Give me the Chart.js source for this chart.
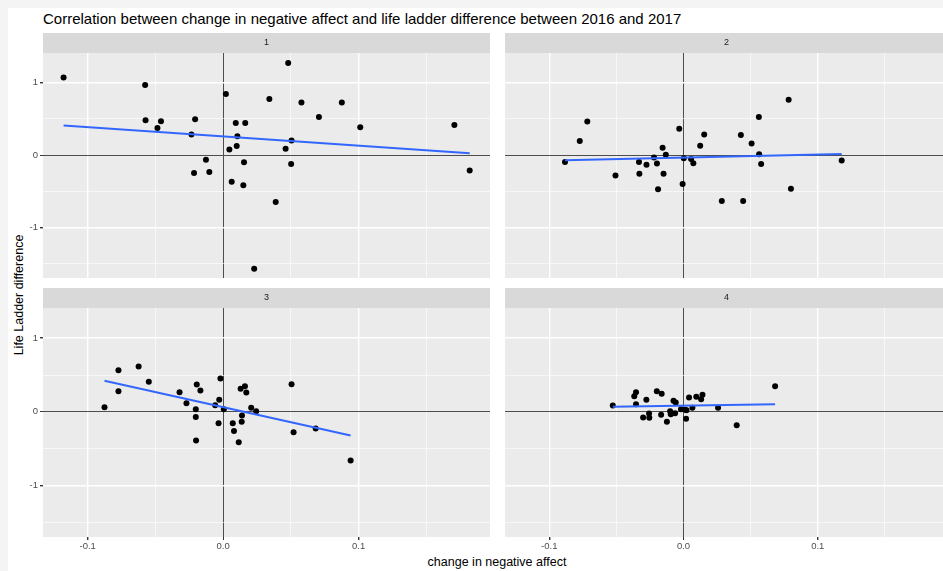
<!DOCTYPE html>
<html>
<head>
<meta charset="utf-8">
<script src="https://cdn.jsdelivr.net/npm/chart.js@4/dist/chart.umd.min.js"></script>
<style>
  body { margin: 0; width: 943px; height: 571px; overflow: hidden; background: #f4f4f4; position: relative;
         font-family: "Liberation Sans", Arial, Helvetica, sans-serif; }
  #sheet { position: absolute; left: 8px; top: 8px; width: 935px; height: 563px; background: #fff; }
  canvas { position: absolute; }
  .txt { position: absolute; white-space: nowrap; color: #000; }
</style>
</head>
<body>
<div id="sheet"></div>
<div class="txt" style="left:43px; top:11px; font-size:15px; line-height:15px;">Correlation between change in negative affect and life ladder difference between 2016 and 2017</div>
<div class="txt" style="left:497px; top:556px; font-size:12.5px; line-height:12px; transform:translateX(-50%);">change in negative affect</div>
<div class="txt" style="left:19px; top:295px; font-size:12.5px; line-height:12px; transform:translate(-50%,-50%) rotate(-90deg);">Life Ladder difference</div>

<canvas id="p1" width="486" height="249" style="left:8px; top:33px;"></canvas>
<canvas id="p2" width="451" height="249" style="left:501px; top:33px;"></canvas>
<canvas id="p3" width="486" height="266" style="left:8px; top:288px;"></canvas>
<canvas id="p4" width="451" height="266" style="left:501px; top:288px;"></canvas>

<script>
  // panel 1
  const x1 = [-0.1178, -0.0576, -0.0573, -0.0485, -0.0459, -0.0207, -0.0234, -0.0215, -0.0127, -0.0102,
              0.0020, 0.0046, 0.0063, 0.0093, 0.0105, 0.0100, 0.0163, 0.0154, 0.0149, 0.0229,
              0.0341, 0.0388, 0.0461, 0.0480, 0.0505, 0.0502, 0.0578, 0.0707, 0.0876, 0.1012,
              0.1707, 0.1820];
  const y1 = [1.073, 0.968, 0.482, 0.373, 0.468, 0.495, 0.282, -0.250, -0.064, -0.236,
              0.845, 0.077, -0.368, 0.441, 0.259, 0.123, 0.441, -0.100, -0.418, -1.573,
              0.773, -0.650, 0.086, 1.273, 0.200, -0.123, 0.727, 0.527, 0.727, 0.382,
              0.414, -0.214];
  const fitX1 = [-0.1178, 0.1820];
  const fitY1 = [0.409, 0.023];

  // panel 2
  const x2 = [-0.0883, -0.0773, -0.0717, -0.0507, -0.0332, -0.0329, -0.0276, -0.0220, -0.0198, -0.0190,
              -0.0156, -0.0149, -0.0132, -0.0032, -0.0007, 0.0002, 0.0056, 0.0073, 0.0124, 0.0154,
              0.0285, 0.0427, 0.0444, 0.0507, 0.0561, 0.0563, 0.0578, 0.0783, 0.0800, 0.1178];
  const y2 = [-0.095, 0.195, 0.464, -0.282, -0.095, -0.259, -0.136, -0.036, -0.118, -0.473,
              0.100, -0.259, 0.005, 0.364, -0.400, -0.045, -0.055, -0.114, 0.127, 0.282,
              -0.636, 0.277, -0.636, 0.159, 0.527, 0.009, -0.123, 0.764, -0.468, -0.077];
  const fitX2 = [-0.0883, 0.1178];
  const fitY2 = [-0.073, 0.014];

  // panel 3
  const x3 = [-0.0876, -0.0773, -0.0773, -0.0624, -0.0549, -0.0322, -0.0271, -0.0202, -0.0202, -0.0195,
              -0.0200, -0.0168, -0.0059, -0.0029, -0.0020, -0.0034, 0.0005, 0.0071, 0.0080, 0.0115,
              0.0129, 0.0161, 0.0171, 0.0139, 0.0137, 0.0207, 0.0244, 0.0505, 0.0520, 0.0683,
              0.0941];
  const y3 = [0.063, 0.566, 0.281, 0.615, 0.407, 0.267, 0.118, 0.036, -0.072, 0.371,
              -0.389, 0.290, 0.090, 0.163, 0.452, -0.154, 0.036, -0.154, -0.262, -0.412,
              0.312, 0.348, 0.262, -0.050, -0.136, 0.054, 0.009, 0.376, -0.276, -0.226,
              -0.661];
  const fitX3 = [-0.0876, 0.0941];
  const fitY3 = [0.421, -0.321];

  // panel 4
  const x4 = [-0.0527, -0.0367, -0.0354, -0.0354, -0.0301, -0.0277, -0.0257, -0.0255, -0.0199, -0.0163,
              -0.0167, -0.0124, -0.0100, -0.0095, -0.0075, -0.0058, -0.0063, -0.0019, 0.0012, 0.0022,
              0.0019, 0.0041, 0.0066, 0.0095, 0.0131, 0.0141, 0.0257, 0.0396, 0.0682];
  const y4 = [0.086, 0.213, 0.267, 0.104, -0.077, 0.163, -0.023, -0.081, 0.281, 0.244,
              -0.041, -0.136, 0.009, -0.032, 0.149, 0.127, -0.018, 0.036, 0.027, 0.023,
              -0.095, 0.195, 0.054, 0.204, 0.172, 0.231, 0.054, -0.181, 0.348];
  const fitX4 = [-0.0527, 0.0682];
  const fitY4 = [0.068, 0.104];

  // axes
  const xTicks = [-0.1, -0.05, 0, 0.05, 0.1, 0.15];
  const yTicks = [-1.5, -1, -0.5, 0, 0.5, 1];
  const xRange = [-0.133, 0.197];
  const yRange = [-1.70, 1.41];

  const STRIP = 20;
  const TICK_FONT = { size: 9.5, family: '"Liberation Sans", Arial, sans-serif' };

  const isMajorX = v => Math.abs(v * 10 - Math.round(v * 10)) < 1e-9;
  const isMajorY = v => Math.abs(v - Math.round(v)) < 1e-9;

  function gridColor(v) { return Math.abs(v) < 1e-9 ? '#4d4d4d' : '#ffffff'; }

  // grey panel + facet strip
  const facetDeco = {
    id: 'facetDeco',
    beforeDraw(chart, args, opts) {
      const { ctx, chartArea: a } = chart;
      ctx.save();
      ctx.fillStyle = '#ebebeb';
      ctx.fillRect(a.left, a.top, a.right - a.left, a.bottom - a.top);
      ctx.fillStyle = '#d9d9d9';
      ctx.fillRect(a.left, a.top - STRIP, a.right - a.left, STRIP);
      ctx.fillStyle = '#1a1a1a';
      ctx.font = '9px "Liberation Sans", Arial, sans-serif';
      ctx.textAlign = 'center';
      ctx.textBaseline = 'middle';
      ctx.fillText(opts.label, (a.left + a.right) / 2, a.top - STRIP / 2);
      ctx.restore();
    }
  };

  // stop tick labels from pushing the panel edges in
  function noPad(s) {
    s.paddingTop = 0; s.paddingBottom = 0; s.paddingLeft = 0; s.paddingRight = 0;
  }

  function makePanel(id, label, xs, ys, fx, fy, showX, showY) {
    const points = xs.map((x, i) => ({ x: x, y: ys[i] }));
    const fit = fx.map((x, i) => ({ x: x, y: fy[i] }));
    new Chart(document.getElementById(id), {
      type: 'scatter',
      data: {
        datasets: [
          { type: 'line', data: fit, borderColor: '#3366ff', borderWidth: 2, pointRadius: 0, fill: false },
          { data: points, backgroundColor: '#000', borderWidth: 0, pointRadius: 3 }
        ]
      },
      options: {
        responsive: false,
        animation: false,
        devicePixelRatio: 1,
        layout: { padding: { top: STRIP, left: 0, right: 0, bottom: 0 } },
        plugins: { legend: { display: false }, tooltip: { enabled: false }, facetDeco: { label: label } },
        scales: {
          x: {
            type: 'linear', min: xRange[0], max: xRange[1],
            afterBuildTicks: s => { s.ticks = xTicks.map(v => ({ value: v })); },
            afterFit: s => { s.height = showX ? 17 : 0; noPad(s); },
            border: { display: false },
            grid: {
              color: c => gridColor(c.tick.value),
              lineWidth: c => Math.abs(c.tick.value) < 1e-9 ? 1 : (isMajorX(c.tick.value) ? 1.4 : 0.6),
              drawTicks: showX, tickLength: 3,
              tickColor: c => isMajorX(c.tick.value) ? '#333' : 'rgba(0,0,0,0)'
            },
            ticks: {
              display: showX, autoSkip: false, maxRotation: 0, padding: 1,
              color: '#4d4d4d', font: TICK_FONT,
              callback: v => isMajorX(v) ? v.toFixed(1) : ''
            }
          },
          y: {
            type: 'linear', min: yRange[0], max: yRange[1],
            afterBuildTicks: s => { s.ticks = yTicks.map(v => ({ value: v })); },
            afterFit: s => { s.width = showY ? 35 : 0; noPad(s); },
            border: { display: false },
            grid: {
              color: c => gridColor(c.tick.value),
              lineWidth: c => Math.abs(c.tick.value) < 1e-9 ? 1 : (isMajorY(c.tick.value) ? 1.4 : 0.6),
              drawTicks: showY, tickLength: 3,
              tickColor: c => isMajorY(c.tick.value) ? '#333' : 'rgba(0,0,0,0)'
            },
            ticks: {
              display: showY, autoSkip: false, padding: 2,
              color: '#4d4d4d', font: TICK_FONT,
              callback: v => isMajorY(v) ? String(Math.round(v)) : ''
            }
          }
        }
      },
      plugins: [facetDeco]
    });
  }

  makePanel('p1', '1', x1, y1, fitX1, fitY1, false, true);
  makePanel('p2', '2', x2, y2, fitX2, fitY2, false, false);
  makePanel('p3', '3', x3, y3, fitX3, fitY3, true, true);
  makePanel('p4', '4', x4, y4, fitX4, fitY4, true, false);
</script>
</body>
</html>
